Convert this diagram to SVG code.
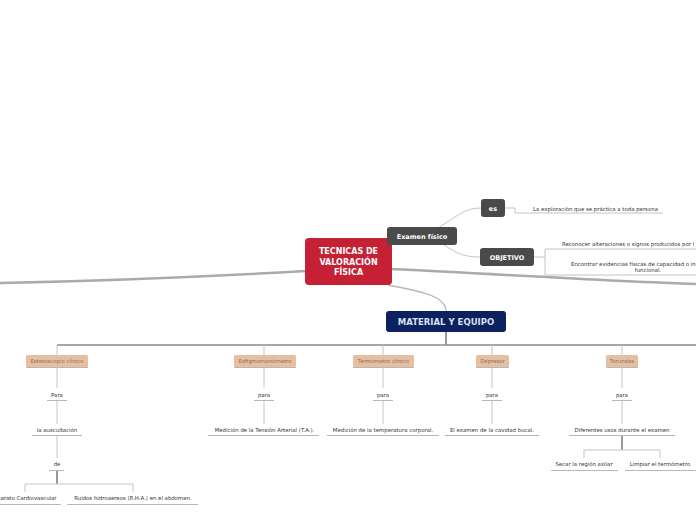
<svg xmlns="http://www.w3.org/2000/svg" width="696" height="520" viewBox="0 0 696 520">
<defs>
<style>
text{font-family:"DejaVu Sans","Liberation Sans",sans-serif;}
.main{fill:none;stroke:#aaaaaa;stroke-width:2.5;stroke-linecap:round;}
.con{fill:none;stroke:#c4c4c4;stroke-width:1;}
.dark{fill:none;stroke:#555;stroke-width:1.2;}
.ul{fill:none;stroke:#b8b8b8;stroke-width:1;}
.sub{fill:#8a6f5e;font-size:5.4px;text-anchor:middle;}
.beige{fill:#e6bfa0;}
.t{fill:#333;font-size:5.4px;text-anchor:middle;}
.dk{fill:#4a4a4a;}
.wb{fill:#fff;font-weight:bold;text-anchor:middle;}
</style>
</defs>
<rect width="696" height="520" fill="#fff"/>
<g id="connectors">
<path class="main" d="M 306 271 C 200 277, 100 281, 0 283"/>
<path class="main" d="M 391 269 C 500 274, 600 281, 696 284"/>
<path class="con" style="stroke:#b8b8b8;stroke-width:1.3" d="M 388 285 C 420 291, 446 296, 446 311"/>
<path class="con" d="M 438 228 C 458 216, 464 208, 481 208"/>
<path class="con" d="M 444 245 C 458 254, 464 257, 480 257"/>
<path class="con" d="M 505 208 H 515 V 213 H 663"/>
<path class="con" d="M 534 257 H 545 M 545 249 V 275 M 545 249 H 696 M 545 275 H 696"/>
<path class="dark" d="M 446 332 V 345"/>
<path fill="none" stroke="#8a8a8a" stroke-width="1.4" d="M 57 345 H 696"/>
<path class="con" d="M 57 345 V 355 M 264 345 V 355 M 383 345 V 355 M 492 345 V 355 M 622 345 V 355"/>
<path class="con" d="M 57 367 V 388 M 57 400 V 424 M 57 435 V 458"/>
<path class="dark" d="M 57 470 V 484"/>
<path class="con" d="M 25 484 H 133 M 25 484 V 492 M 133 484 V 492"/>
<path class="con" d="M 264 367 V 388 M 264 400 V 424"/>
<path class="con" d="M 383 367 V 388 M 383 400 V 424"/>
<path class="con" d="M 492 367 V 388 M 492 400 V 424"/>
<path class="con" d="M 622 367 V 388 M 622 400 V 424"/>
<path class="dark" d="M 622 435 V 450"/>
<path class="con" d="M 584 450 H 660 M 584 450 V 458 M 660 450 V 458"/>
</g>
<g id="central">
<rect x="305" y="238" width="87" height="47" rx="4" fill="#c62034"/>
<text class="wb" font-size="8" x="348.5" y="254">TECNICAS DE</text>
<text class="wb" font-size="8" x="348.5" y="264.5">VALORACIÓN</text>
<text class="wb" font-size="8" x="348.5" y="275">FÍSICA</text>
</g>
<g id="examen">
<rect class="dk" x="387" y="227" width="70" height="18" rx="3"/>
<text class="wb" font-size="6.5" x="422" y="238.5">Examen físico</text>
</g>
<g id="es">
<rect class="dk" x="481" y="199" width="24" height="18" rx="3"/>
<text class="wb" font-size="6.5" x="493" y="210.5">es</text>
</g>
<g id="es-text">
<text class="t" x="595.5" y="210.5">La exploración que se práctica a toda persona</text>
</g>
<g id="objetivo">
<rect class="dk" x="480" y="248" width="54" height="18" rx="3"/>
<text class="wb" font-size="6.5" x="507" y="259.5">OBJETIVO</text>
</g>
<g id="obj1">
<text class="t" x="562" y="246" style="text-anchor:start">Reconocer alteraciones o signos producidos por l</text>
</g>
<g id="obj2">
<text class="t" x="571" y="266" style="text-anchor:start">Encontrar evidencias físicas de capacidad o in</text>
<text class="t" x="648" y="272">funcional.</text>
</g>
<g id="material">
<rect x="386" y="311" width="120" height="21" rx="3" fill="#0d2161"/>
<text font-size="8.5" font-weight="bold" fill="#d6e2f0" text-anchor="middle" x="446" y="324.5">MATERIAL Y EQUIPO</text>
</g>
<g id="estetoscopio">
<rect class="beige" x="26" y="355" width="62" height="12" rx="1.5"/>
<path class="ul" d="M 26 367.5 H 88"/>
<text class="sub" x="57" y="362.8">Estetoscopio clínico</text>
</g>
<g id="esfigmo">
<rect class="beige" x="234" y="355" width="62" height="12" rx="1.5"/>
<path class="ul" d="M 234 367.5 H 296"/>
<text class="sub" x="265" y="362.8">Esfigmomanómetro</text>
</g>
<g id="termometro">
<rect class="beige" x="353" y="355" width="61" height="12" rx="1.5"/>
<path class="ul" d="M 353 367.5 H 414"/>
<text class="sub" x="383.5" y="362.8">Termómetro clínico</text>
</g>
<g id="depresor">
<rect class="beige" x="476" y="355" width="33" height="12" rx="1.5"/>
<path class="ul" d="M 476 367.5 H 509"/>
<text class="sub" x="492.5" y="362.8">Depresor</text>
</g>
<g id="torundas">
<rect class="beige" x="606" y="355" width="32" height="12" rx="1.5"/>
<path class="ul" d="M 606 367.5 H 638"/>
<text class="sub" x="622" y="362.8">Torundas</text>
</g>
<g id="para1"><text class="t" x="57" y="396.5">Para</text><path class="ul" d="M 47 400.5 H 67"/></g>
<g id="para2"><text class="t" x="264" y="396.5">para</text><path class="ul" d="M 254 400.5 H 274"/></g>
<g id="para3"><text class="t" x="383" y="396.5">para</text><path class="ul" d="M 373 400.5 H 393"/></g>
<g id="para4"><text class="t" x="492" y="396.5">para</text><path class="ul" d="M 482 400.5 H 502"/></g>
<g id="para5"><text class="t" x="622" y="396.5">para</text><path class="ul" d="M 612 400.5 H 632"/></g>
<g id="auscultacion"><text class="t" x="57" y="431.5">la auscultación</text><path class="ul" d="M 32 435.5 H 82"/></g>
<g id="tension"><text class="t" x="264.5" y="431.5">Medición de la Tensión Arterial (T.A.).</text><path class="ul" d="M 208 435.5 H 319"/></g>
<g id="temperatura"><text class="t" x="383" y="431.5">Medición de la temperatura corporal.</text><path class="ul" d="M 327 435.5 H 439"/></g>
<g id="bucal"><text class="t" x="492" y="431.5">El examen de la cavidad bucal.</text><path class="ul" d="M 445 435.5 H 539"/></g>
<g id="usos"><text class="t" x="622" y="431.5">Diferentes usos durante el examen</text><path class="ul" d="M 569 435.5 H 675"/></g>
<g id="de"><text class="t" x="57" y="465.5">de</text><path class="ul" d="M 49 470.5 H 64"/></g>
<g id="cardio"><text class="t" x="25" y="500">Aparato Cardiovascular</text><path class="ul" d="M -10 504.5 H 61"/></g>
<g id="ruidos"><text class="t" x="133" y="500">Ruidos hidroaereos (R.H.A.) en el abdomen.</text><path class="ul" d="M 67 504.5 H 198"/></g>
<g id="axilar"><text class="t" x="584" y="465.5">Secar la región axilar</text><path class="ul" d="M 551 470.5 H 618"/></g>
<g id="limpiar"><text class="t" x="660" y="465.5">Limpiar el termómetro</text><path class="ul" d="M 625 470.5 H 696"/></g>
</svg>
